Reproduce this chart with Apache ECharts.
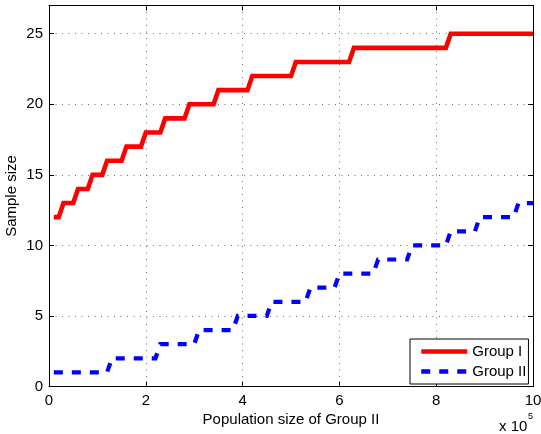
<!DOCTYPE html>
<html>
<head>
<meta charset="utf-8">
<script src="https://cdn.jsdelivr.net/npm/echarts@6.0.0/dist/echarts.min.js"></script>
<style>
  html, body { margin: 0; padding: 0; background: #fff; }
  #chart { width: 541px; height: 434px; }
</style>
</head>
<body>
<div id="chart"></div>
<script>
// Required sample size versus population size of Group II (x in units of 1e5).
// Each level is held from its first to its last sampled population size.
const redLevels = [12, 13, 14, 15, 16, 17, 18, 19, 20, 21, 22, 23, 24, 25];
const redFirst  = [0.1, 0.3, 0.6, 0.9, 1.2, 1.6, 2.0, 2.4, 2.9, 3.5, 4.2, 5.1, 6.3, 8.3];
const redLast   = [0.2, 0.5, 0.8, 1.1, 1.5, 1.9, 2.3, 2.8, 3.4, 4.1, 5.0, 6.2, 8.2, 10.0];

const blueLevels = [1, 2, 3, 4, 5, 6, 7, 8, 9, 10, 11, 12, 13];
const blueFirst  = [0.1, 1.3, 2.3, 3.1, 3.9, 4.6, 5.4, 6.0, 6.8, 7.5, 8.3, 8.9, 9.7];
const blueLast   = [1.2, 2.2, 3.0, 3.8, 4.5, 5.3, 5.9, 6.7, 7.4, 8.2, 8.8, 9.6, 10.0];

const seriesNames = ['Group I', 'Group II'];
const xTicks = { min: 0, max: 10, interval: 2 };
const yTicks = { min: 0, max: 27, interval: 5 };
const xLabel = 'Population size of Group II';
const yLabel = 'Sample size';

function stepPoints(levels, first, last) {
  const pts = [];
  levels.forEach((v, i) => {
    pts.push([first[i], v]);
    if (last[i] !== first[i]) pts.push([last[i], v]);
  });
  return pts;
}

const FONT = '"Liberation Sans", Arial, Helvetica, sans-serif';
const FS = 15;
const chart = echarts.init(document.getElementById('chart'), null, { renderer: 'canvas' });

const frameAxis = {
  axisLine: { show: true, onZero: false, lineStyle: { color: '#000', width: 1 } },
  axisTick: { show: true, inside: true, length: 5, lineStyle: { color: '#000' } },
  axisLabel: { show: false },
  splitLine: { show: false }
};
const gridLine = { show: true, lineStyle: { color: '#6e6e6e', width: 1, type: [1, 5.5] } };

chart.setOption({
  animation: false,
  backgroundColor: '#fff',
  grid: { left: 49, right: 8, top: 5.5, bottom: 47.5, containLabel: false, outerBoundsMode: 'none' },
  xAxis: [
    {
      type: 'value', position: 'bottom',
      min: xTicks.min, max: xTicks.max, interval: xTicks.interval,
      name: xLabel, nameLocation: 'middle', nameGap: 26, nameMoveOverlap: false,
      nameTextStyle: { fontFamily: FONT, fontSize: FS, color: '#000', verticalAlign: 'top' },
      axisLine: { show: true, onZero: false, lineStyle: { color: '#000', width: 1 } },
      axisTick: { show: true, inside: true, length: 5, lineStyle: { color: '#000' } },
      axisLabel: { show: true, margin: 7, fontFamily: FONT, fontSize: FS, color: '#000' },
      splitLine: gridLine
    },
    Object.assign({ type: 'value', position: 'top', min: xTicks.min, max: xTicks.max, interval: xTicks.interval }, frameAxis)
  ],
  yAxis: [
    {
      type: 'value', position: 'left',
      min: yTicks.min, max: yTicks.max, interval: yTicks.interval,
      name: yLabel, nameLocation: 'middle', nameGap: 30, nameRotate: 90, nameMoveOverlap: false,
      nameTextStyle: { fontFamily: FONT, fontSize: FS, color: '#000' },
      axisLine: { show: true, onZero: false, lineStyle: { color: '#000', width: 1 } },
      axisTick: { show: true, inside: true, length: 5, lineStyle: { color: '#000' } },
      axisLabel: { show: true, margin: 6, showMaxLabel: false, fontFamily: FONT, fontSize: FS, color: '#000' },
      splitLine: gridLine
    },
    Object.assign({ type: 'value', position: 'right', min: yTicks.min, max: yTicks.max, interval: yTicks.interval }, frameAxis)
  ],
  legend: {
    data: seriesNames,
    orient: 'vertical',
    left: 410, top: 339,
    padding: [5, 2, 5, 9],
    itemGap: 5,
    itemWidth: 46, itemHeight: 14,
    borderColor: '#000', borderWidth: 1, borderRadius: 0,
    backgroundColor: '#fff',
    itemStyle: { opacity: 0 },
    lineStyle: { width: 4.5 },
    textStyle: { fontFamily: FONT, fontSize: FS, color: '#000' }
  },
  series: [
    {
      name: seriesNames[0], type: 'line',
      data: stepPoints(redLevels, redFirst, redLast),
      showSymbol: false, symbol: 'none',
      color: '#ff0000',
      lineStyle: { color: '#ff0000', width: 4.6, join: 'miter' },
      z: 3
    },
    {
      name: seriesNames[1], type: 'line',
      data: stepPoints(blueLevels, blueFirst, blueLast),
      showSymbol: false, symbol: 'none',
      color: '#0000ff',
      lineStyle: { color: '#0000ff', width: 4.2, type: [9, 9], join: 'miter', cap: 'butt' },
      z: 3
    }
  ],
  graphic: [
    { type: 'text', x: 499, y: 419, style: { text: 'x 10', font: FS + 'px ' + FONT, fill: '#000' } },
    { type: 'text', x: 528, y: 412, style: { text: '5', font: '9px ' + FONT, fill: '#000' } }
  ]
});
</script>
</body>
</html>
